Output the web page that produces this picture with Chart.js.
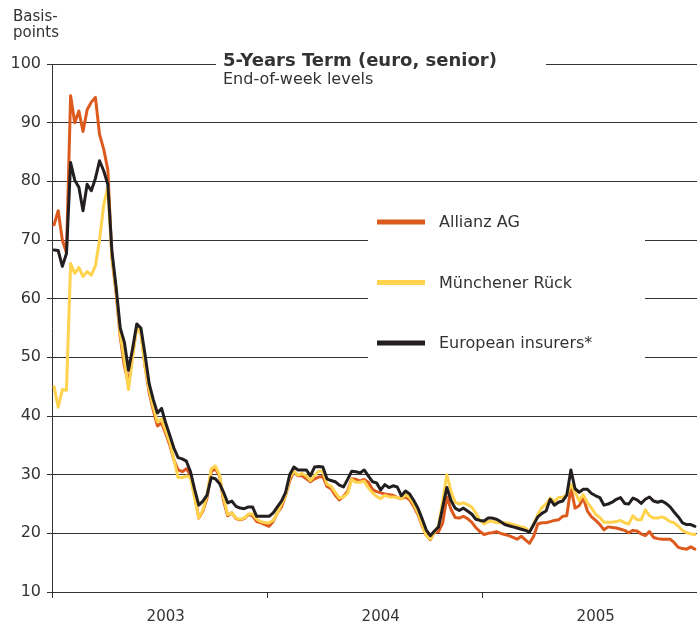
<!DOCTYPE html>
<html><head><meta charset="utf-8">
<script src="https://cdn.jsdelivr.net/npm/chart.js@4.4.1/dist/chart.umd.min.js"></script>
<style>html,body{margin:0;padding:0;background:#fff}#wrap{width:697px;height:627px;position:relative}</style>
</head><body><div id="wrap"><canvas id="c"></canvas></div>
<script>
// ---- data (weekly, end-of-week levels, basis points) ----
const seriesNames = ['Allianz AG', 'Münchener Rück', 'European insurers*'];
const yearLabels = ['2003', '2004', '2005'];
const weeksPerYear = 52;
const yTickValues = [10, 20, 30, 40, 50, 60, 70, 80, 90, 100];
const titleText = '5-Years Term (euro, senior)';
const subtitleText = 'End-of-week levels';
const unitLines = ['Basis-', 'points'];

const allianz = [
  72.6, 75, 70, 67.8, 94.6, 90, 92, 88.5, 92.2, 93.5, 94.3, 88, 85.5, 82, 67, 61,
  53.5, 48.5, 45.6, 50.5, 55.3, 54.5, 48.5, 44, 41, 38.3, 38.8, 37, 35, 32.5, 30.8, 30.5, 31, 30, 26.5,
  22.6, 23.8, 26, 30.5, 31, 29.8, 25.5, 23,
  23.5, 22.5, 22.3, 22.5, 23.2, 23, 22, 21.8, 21.5, 21.2, 22, 23.5, 24.5, 26.5, 29, 30.5, 29.8, 29.8, 29.3, 28.8, 29.3, 29.6, 29.7, 28, 27.6, 26.5, 25.7, 26.3, 27.2,
  29.3, 29.2, 28.9, 29.2, 28.7, 27.5, 27.1, 26.9, 26.7, 26.6,
  26.5, 26.1, 25.9, 26.2, 25.7, 24.6, 23.2, 21.3, 19.7, 18.9,
  20.2, 20.3, 21.8, 26.2, 24.1, 22.7, 22.6, 22.9, 22.5, 21.9,
  21, 20.3, 19.8, 20, 20.1, 20.3, 20, 19.8, 19.6, 19.3,
  19, 19.5, 18.9, 18.3, 19.5, 21.6, 21.8, 21.8, 22, 22.2,
  22.3, 22.9, 23, 27.8, 24.3, 24.7, 26, 23.8, 22.8, 22.2,
  21.5, 20.6, 21.1, 21, 20.9, 20.7, 20.5, 20.1, 20.5, 20.4,
  19.9, 19.6, 20.3, 19.3, 19.1, 19, 19, 19, 18.4, 17.6,
  17.4, 17.3, 17.7, 17.3
];

const munichRe = [
  45, 41.5, 44.5, 44.4, 66, 64.3, 65.3, 63.8, 64.6, 64, 65.6, 70, 76, 79, 67, 61.5,
  54, 49.5, 44.5, 50, 55.3, 54, 48.5, 44.5, 41.5, 39, 39.5, 37.5, 35.5, 32.5, 29.5, 29.5, 29.8, 29.5, 26,
  22.6, 24, 26.5, 31, 31.5, 30, 26, 23.2,
  23.5, 22.6, 22.4, 22.6, 23.3, 23.3, 22.4, 22, 21.8, 21.8, 22.2, 23.5, 25, 26.5, 29.5, 30.6, 29.9, 30.2, 29.8, 29, 29.8, 30.6, 30.6, 28.4, 28, 27, 26, 26.2, 26.8,
  29.2, 28.7, 28.7, 28.9, 27.8, 26.9, 26.3, 25.9, 26.5, 26.2,
  26.2, 26.1, 25.9, 26.6, 26.1, 25, 23.5, 21.5, 19.6, 19,
  20.2, 21.3, 25.5, 30, 27.2, 25.3, 25, 25.2, 24.9, 24.5,
  23.5, 22.2, 21.6, 22, 22.1, 21.8, 21.8, 21.8, 21.7, 21.5,
  21.3, 21.1, 20.9, 20.3, 21.6, 23.2, 24.4, 25, 26, 25.4,
  26.1, 26.1, 26.6, 28.3, 27, 25.6, 26.6, 25.2, 24.3, 23.2,
  22.7, 21.9, 21.9, 21.9, 22, 22.2, 21.8, 21.6, 23, 22.3,
  22.3, 24, 23, 22.6, 22.6, 22.8, 22.5, 22, 21.8, 21.2,
  20.5, 20.1, 19.9, 19.8
];

const europeanInsurers = [
  68.3, 68.2, 65.5, 67.7, 83.2, 80.2, 79, 75, 79.5, 78.4, 80.5, 83.5, 81.8, 79.5, 68, 62,
  55, 52.6, 47.8, 51.5, 55.7, 55, 50.5, 45.5, 42.8, 40.5, 41.3, 38.8, 36.7, 34.5, 32.9, 32.7, 32.3, 30.5, 27.5,
  24.8, 25.5, 26.5, 29.5, 29.3, 28.5, 27, 25.2,
  25.5, 24.6, 24.3, 24.2, 24.5, 24.5, 22.9, 22.9, 22.9, 22.9, 23.5, 24.5, 25.5, 27, 30, 31.3, 30.8, 30.8, 30.8, 29.8, 31.3, 31.4, 31.3, 29.3, 29, 28.8, 28.2, 27.9, 29.2,
  30.6, 30.5, 30.3, 30.8, 29.8, 28.8, 28.6, 27.4, 28.3, 27.8,
  28.1, 27.9, 26.4, 27.2, 26.7, 25.6, 24.3, 22.5, 20.6, 19.6,
  20.4, 21.1, 24.5, 27.8, 25.6, 24.3, 23.9, 24.3, 23.8, 23.3,
  22.4, 22.2, 22.1, 22.6, 22.6, 22.4, 22, 21.5, 21.3, 21.1,
  20.9, 20.7, 20.5, 20.2, 21.5, 22.8, 23.4, 23.8, 25.8, 24.8,
  25.3, 25.5, 26.5, 30.8, 27.6, 27, 27.5, 27.5, 26.8, 26.4,
  26.1, 24.8, 25, 25.3, 25.8, 26.1, 25.1, 25, 26, 25.7,
  25.1, 25.8, 26.2, 25.5, 25.3, 25.5, 25.1, 24.5, 23.6, 22.8,
  21.8, 21.5, 21.5, 21.2
];

// ---- styling ----
const FONT = '"DejaVu Sans", Verdana, sans-serif';
const TEXT = '#333333';
const GRID = '#333333';
const colors = ['#DD5A1E', '#FFD34D', '#231F20'];

const toPoints = arr => arr.map((v, i) => ({ x: i + 0.5, y: v }));

const yearBoundaries = yearLabels.map((_, k) => k * weeksPerYear);
const yearLabelPos = yearLabels.map((_, k) => k * weeksPerYear + weeksPerYear / 2 + 1.5);

const overlay = {
  id: 'overlay',
  beforeDatasetsDraw(chart) {
    const ctx = chart.ctx, ca = chart.chartArea;
    ctx.save();
    // white boxes interrupting grid lines
    ctx.fillStyle = '#ffffff';
    ctx.fillRect(216, ca.top - 14, 330, 28);
    ctx.fillRect(368, 195, 277, 170);
    ctx.fillStyle = TEXT;
    ctx.textAlign = 'left';
    ctx.textBaseline = 'alphabetic';
    // unit label
    ctx.font = '15px ' + FONT;
    ctx.fillText(unitLines[0], 13, 21);
    ctx.fillText(unitLines[1], 13, 37);
    // title & subtitle
    ctx.font = 'bold 18px ' + FONT;
    ctx.fillText(titleText, 223, 66);
    ctx.font = '16px ' + FONT;
    ctx.fillText(subtitleText, 223, 84);
    // legend
    chart.data.datasets.forEach((ds, i) => {
      const y = 222 + i * 60.5;
      ctx.strokeStyle = ds.borderColor;
      ctx.lineWidth = 5;
      ctx.lineCap = 'butt';
      ctx.beginPath();
      ctx.moveTo(377, y);
      ctx.lineTo(425, y);
      ctx.stroke();
      ctx.fillStyle = TEXT;
      ctx.font = '16px ' + FONT;
      ctx.textBaseline = 'middle';
      ctx.fillText(ds.label, 439, y + 1);
    });
    ctx.restore();
  }
};

new Chart(document.getElementById('c'), {
  type: 'line',
  data: {
    datasets: [
      { label: seriesNames[0], data: toPoints(allianz), borderColor: colors[0], order: 2 },
      { label: seriesNames[1], data: toPoints(munichRe), borderColor: colors[1], order: 1 },
      { label: seriesNames[2], data: toPoints(europeanInsurers), borderColor: colors[2], order: 0 }
    ]
  },
  options: {
    responsive: true,
    maintainAspectRatio: false,
    devicePixelRatio: 1,
    animation: false,
    layout: { padding: { top: 64, left: 0, right: 0, bottom: 0 } },
    elements: {
      point: { radius: 0 },
      line: { borderWidth: 3, tension: 0, borderJoinStyle: 'round', borderCapStyle: 'round', fill: false }
    },
    plugins: { legend: { display: false }, tooltip: { enabled: false }, title: { display: false } },
    scales: {
      x: {
        type: 'linear',
        min: 0,
        max: weeksPerYear * yearLabels.length,
        afterBuildTicks(s) {
          const t = [];
          yearBoundaries.forEach(v => t.push({ value: v }));
          yearLabelPos.forEach(v => t.push({ value: v }));
          t.sort((a, b) => a.value - b.value);
          s.ticks = t;
        },
        afterFit(s) { s.height = 35; },
        ticks: {
          autoSkip: false,
          maxRotation: 0,
          padding: 10,
          color: TEXT,
          font: { family: FONT, size: 15 },
          callback(value) {
            const k = yearLabelPos.indexOf(value);
            return k >= 0 ? yearLabels[k] : '';
          }
        },
        grid: {
          drawOnChartArea: false,
          tickLength: 6,
          lineWidth: 1,
          tickColor: c => (c.tick && yearBoundaries.includes(c.tick.value)) ? GRID : 'rgba(0,0,0,0)'
        },
        border: { display: false }
      },
      y: {
        min: 10,
        max: 100,
        afterBuildTicks(s) { s.ticks = yTickValues.map(v => ({ value: v })); },
        afterFit(s) { s.width = 52; },
        ticks: { padding: 6, color: TEXT, font: { family: FONT, size: 16 } },
        grid: { color: GRID, lineWidth: 1, tickLength: 5 },
        border: { display: true, color: GRID, width: 1 }
      }
    }
  },
  plugins: [overlay]
});
</script>
</body></html>
